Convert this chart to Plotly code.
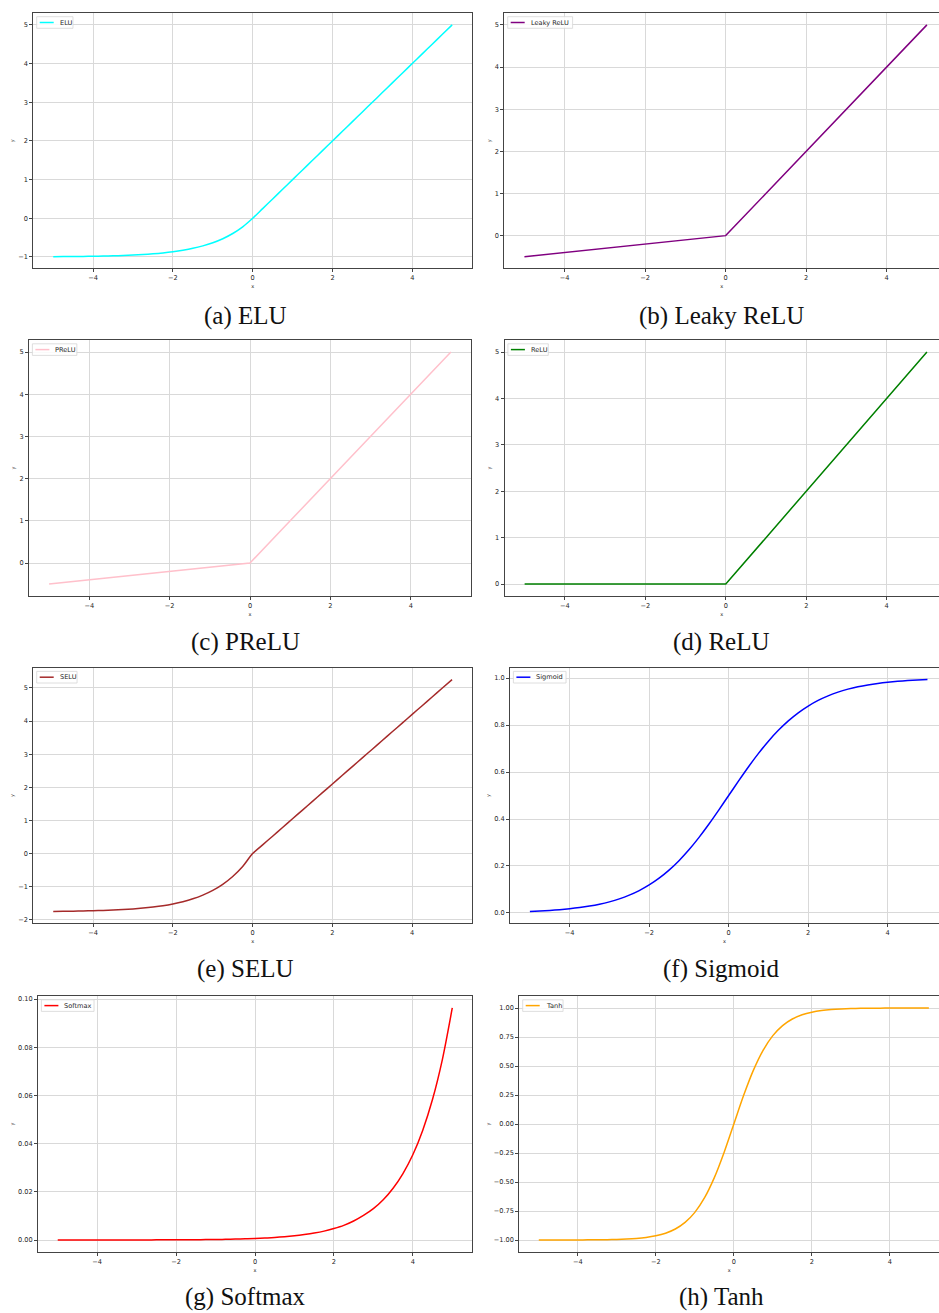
import plotly.graph_objects as go

# ---------------- data ----------------
X_Q = [-5.0, -4.75, -4.5, -4.25, -4.0, -3.75, -3.5, -3.25, -3.0, -2.75, -2.5,
       -2.25, -2.0, -1.75, -1.5, -1.25, -1.0, -0.75, -0.5, -0.25, 0.0,
       0.25, 0.5, 0.75, 1.0, 1.25, 1.5, 1.75, 2.0, 2.25, 2.5,
       2.75, 3.0, 3.25, 3.5, 3.75, 4.0, 4.25, 4.5, 4.75, 5.0]
X_INT = [-5, -4, -3, -2, -1, 0, 1, 2, 3, 4, 5]

elu_y = [-0.993, -0.991, -0.989, -0.986, -0.982, -0.976, -0.970, -0.961, -0.950, -0.936, -0.918,
         -0.895, -0.865, -0.826, -0.777, -0.713, -0.632, -0.528, -0.393, -0.221, 0.0,
         0.25, 0.5, 0.75, 1.0, 1.25, 1.5, 1.75, 2.0, 2.25, 2.5,
         2.75, 3.0, 3.25, 3.5, 3.75, 4.0, 4.25, 4.5, 4.75, 5.0]
leaky_y = [-0.5, -0.4, -0.3, -0.2, -0.1, 0.0, 1.0, 2.0, 3.0, 4.0, 5.0]
prelu_y = [-0.5, -0.4, -0.3, -0.2, -0.1, 0.0, 1.0, 2.0, 3.0, 4.0, 5.0]
relu_y = [0.0, 0.0, 0.0, 0.0, 0.0, 0.0, 1.0, 2.0, 3.0, 4.0, 5.0]
selu_y = [-1.746, -1.743, -1.739, -1.733, -1.726, -1.717, -1.705, -1.690, -1.671, -1.646, -1.614,
          -1.574, -1.520, -1.452, -1.366, -1.254, -1.111, -0.928, -0.691, -0.389, 0.0,
          0.263, 0.525, 0.788, 1.051, 1.313, 1.576, 1.839, 2.101, 2.364, 2.627,
          2.889, 3.152, 3.415, 3.677, 3.940, 4.203, 4.465, 4.728, 4.991, 5.254]
sigmoid_y = [0.0067, 0.0086, 0.0110, 0.0140, 0.0180, 0.0230, 0.0293, 0.0373, 0.0474, 0.0601, 0.0759,
             0.0953, 0.1192, 0.1480, 0.1824, 0.2227, 0.2689, 0.3208, 0.3775, 0.4378, 0.5,
             0.5622, 0.6225, 0.6792, 0.7311, 0.7773, 0.8176, 0.8520, 0.8808, 0.9047, 0.9241,
             0.9399, 0.9526, 0.9627, 0.9707, 0.9770, 0.9820, 0.9860, 0.9890, 0.9914, 0.9933]
softmax_y = [0.0000, 0.0000, 0.0000, 0.0000, 0.0000, 0.0000, 0.0000, 0.0000, 0.0000, 0.0000, 0.0001,
             0.0001, 0.0001, 0.0001, 0.0001, 0.0002, 0.0002, 0.0003, 0.0004, 0.0005, 0.0006,
             0.0008, 0.0011, 0.0014, 0.0018, 0.0023, 0.0029, 0.0037, 0.0048, 0.0061, 0.0079,
             0.0102, 0.0130, 0.0167, 0.0215, 0.0276, 0.0354, 0.0455, 0.0584, 0.0750, 0.0963]
tanh_y = [-0.9999, -0.9999, -0.9998, -0.9996, -0.9993, -0.9989, -0.9982, -0.9970, -0.9951, -0.9918, -0.9866,
          -0.9780, -0.9640, -0.9414, -0.9051, -0.8483, -0.7616, -0.6351, -0.4621, -0.2449, 0.0,
          0.2449, 0.4621, 0.6351, 0.7616, 0.8483, 0.9051, 0.9414, 0.9640, 0.9780, 0.9866,
          0.9918, 0.9951, 0.9970, 0.9982, 0.9989, 0.9993, 0.9996, 0.9998, 0.9999, 0.9999]

names = ["ELU", "Leaky ReLU", "PReLU", "ReLU", "SELU", "Sigmoid", "Softmax", "Tanh"]
captions = ["(a) ELU", "(b) Leaky ReLU", "(c) PReLU", "(d) ReLU",
            "(e) SELU", "(f) Sigmoid", "(g) Softmax", "(h) Tanh"]
xs = [X_Q, X_INT, X_INT, X_INT, X_Q, X_Q, X_Q, X_Q]
ys = [elu_y, leaky_y, prelu_y, relu_y, selu_y, sigmoid_y, softmax_y, tanh_y]

# ---------------- style / layout ----------------
colors = ["#00ffff", "#800080", "#ffc0cb", "#008000", "#a52a2a", "#0000ff", "#ff0000", "#ffa500"]
shapes_kind = ["spline", "linear", "linear", "linear", "spline", "spline", "spline", "spline"]
W, H = 939, 1313
# (left, right, top, bottom) in pixels, x range, y range, y dtick, y tickformat
boxes = [
    (33.3, 472.1, 13.3, 268.3, [-5.5, 5.5], [-1.293, 5.2997], 1, ""),
    (504.3, 939, 13.3, 268.3, [-5.5, 5.30], [-0.775, 5.275], 1, ""),
    (29.0, 471.0, 340.4, 595.7, [-5.5, 5.5], [-0.775, 5.275], 1, ""),
    (504.5, 939, 340.4, 595.7, [-5.5, 5.30], [-0.25, 5.25], 1, ""),
    (33.3, 472.0, 668.0, 923.0, [-5.5, 5.5], [-2.096, 5.6035], 1, ""),
    (510.0, 939, 668.0, 923.0, [-5.5, 5.29], [-0.0426, 1.0426], 0.2, ".1f"),
    (38.0, 472.0, 996.4, 1251.6, [-5.5, 5.5], [-0.0048, 0.1011], 0.02, ".2f"),
    (519.3, 939, 996.4, 1251.6, [-5.5, 5.26], [-1.1, 1.1], 0.25, ".2f"),
]
caption_pos = [(245, 316), (721, 316), (245, 642), (721, 642),
               (245, 969), (721, 969), (245, 1297), (721, 1297)]

TICK_FONT = dict(family="DejaVu Sans", size=6.6, color="#262626")
fig = go.Figure()
shapes = []
annotations = []

for i in range(8):
    l, r, t, b, xr, yr, dy, yfmt = boxes[i]
    sfx = "" if i == 0 else str(i + 1)
    right_col = (i % 2 == 1)
    fig.add_trace(go.Scatter(
        x=xs[i], y=ys[i], mode="lines", name=names[i], showlegend=False,
        line=dict(color=colors[i], width=1.5, shape=shapes_kind[i], smoothing=0.8),
        xaxis="x" + sfx, yaxis="y" + sfx,
    ))
    fig.layout["xaxis" + sfx] = dict(
        domain=[l / W, r / W], range=xr, anchor="y" + sfx,
        tick0=0, dtick=2, ticks="outside", ticklen=3, tickcolor="#444",
        tickfont=TICK_FONT, showgrid=True, gridcolor="#d9d9d9", gridwidth=0.8,
        zeroline=False, showline=True, linecolor="#444", linewidth=1, mirror=True,
        title=dict(text="x", font=dict(family="DejaVu Sans", size=5, color="#262626"), standoff=3),
        automargin=False,
    )
    fig.layout["yaxis" + sfx] = dict(
        domain=[1 - b / H, 1 - t / H], range=yr, anchor="x" + sfx,
        tick0=0, dtick=dy, tickformat=yfmt, ticks="outside", ticklen=3, tickcolor="#444",
        tickfont=TICK_FONT, showgrid=True, gridcolor="#d9d9d9", gridwidth=0.8,
        zeroline=False, showline=True, linecolor="#444", linewidth=1,
        mirror=False if right_col else True,
        title=dict(text="y", font=dict(family="DejaVu Sans", size=5, color="#262626"), standoff=3),
        automargin=False,
    )
    # legend box (upper left)
    bl = l + 3.4
    bt = t + 3.4
    bw = 24 + 0.62 * 6.6 * len(names[i])
    bh = 11.6
    shapes.append(dict(type="rect", xref="paper", yref="paper",
                       x0=bl / W, x1=(bl + bw) / W, y0=1 - (bt + bh) / H, y1=1 - bt / H,
                       line=dict(color="#d6d6d6", width=0.8), fillcolor="rgba(255,255,255,0.85)"))
    ym = 1 - (bt + bh / 2) / H
    shapes.append(dict(type="line", xref="paper", yref="paper",
                       x0=(bl + 3) / W, x1=(bl + 17) / W, y0=ym, y1=ym,
                       line=dict(color=colors[i], width=1.5)))
    annotations.append(dict(text=names[i], xref="paper", yref="paper",
                            x=(bl + 21) / W, y=ym, xanchor="left", yanchor="middle",
                            showarrow=False, font=TICK_FONT))
    cx, cy = caption_pos[i]
    annotations.append(dict(text=captions[i], xref="paper", yref="paper",
                            x=cx / W, y=1 - cy / H, xanchor="center", yanchor="middle",
                            showarrow=False,
                            font=dict(family="Liberation Serif", size=25, color="#111")))

fig.update_layout(
    width=W, height=H, margin=dict(l=0, r=0, t=0, b=0),
    paper_bgcolor="white", plot_bgcolor="white",
    shapes=shapes, annotations=annotations, showlegend=False,
)
fig.write_html("out.html")
